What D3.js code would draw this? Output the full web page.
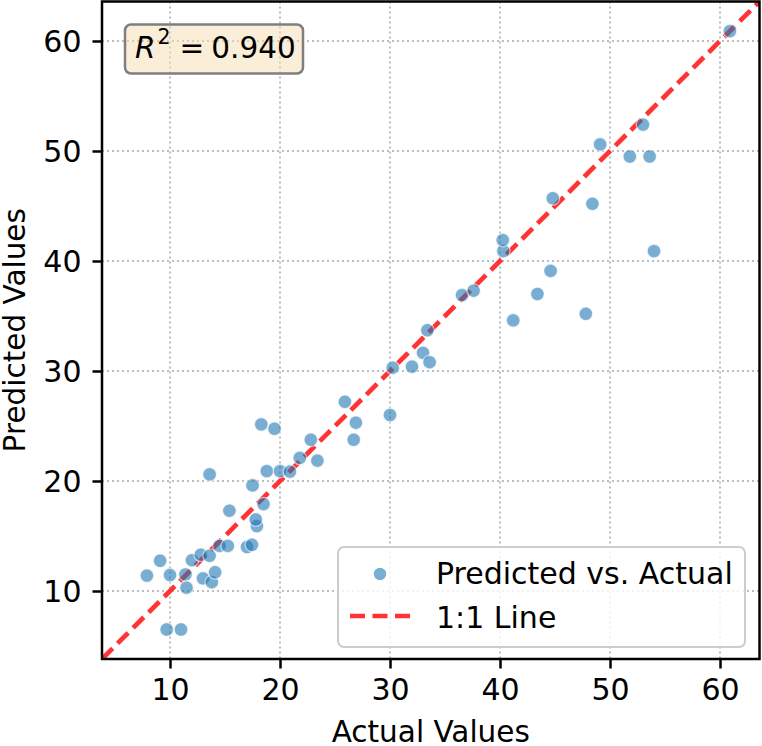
<!DOCTYPE html>
<html>
<head>
<meta charset="utf-8">
<script src="https://cdn.jsdelivr.net/npm/d3@7"></script>
<style>
  body { margin: 0; background: #fff; }
  svg { font-family: 'DejaVu Sans', sans-serif; }
</style>
</head>
<body>
<div id="chart"></div>
<script>
// values
const actual = [
    7.9, 9.1, 10.0, 11.4, 11.5, 12.0, 12.8, 13.6, 13.0, 13.8,
    14.1, 14.5, 15.25, 17.0, 17.45, 17.9, 17.8, 9.7, 11.0, 18.3,
    19.5, 22.8, 21.8, 23.4, 13.6, 18.8, 20.0, 20.9, 17.5, 18.5,
    15.4, 25.9, 26.9, 26.7, 30.0, 30.25, 32.0, 33.0, 33.6, 33.4,
    36.55, 37.6, 40.3, 41.2, 43.4, 44.6, 47.8, 54.0, 40.25, 44.8,
    48.4, 60.9, 53.0, 49.1, 51.8, 53.6
];
const predicted = [
    11.4, 12.75, 11.45, 11.5, 10.3, 12.8, 13.3, 13.2, 11.15, 10.8,
    11.7, 14.1, 14.1, 14.0, 14.2, 15.9, 16.5, 6.5, 6.5, 25.15,
    24.75, 23.75, 22.1, 21.85, 20.6, 20.9, 20.9, 20.85, 19.6, 17.9,
    17.3, 27.2, 25.3, 23.75, 26.0, 30.3, 30.4, 31.65, 30.8, 33.7,
    36.9, 37.3, 40.9, 34.6, 37.0, 39.1, 35.2, 40.9, 41.9, 45.7,
    45.2, 60.9, 52.4, 50.6, 49.5, 49.5
];
const ticks = [10, 20, 30, 40, 50, 60];
const r2Text = '0.940';
const legendLabels = ['Predicted vs. Actual', '1:1 Line'];

const chartWidth = 762;
const chartHeight = 746;
const plotLeft = 102, plotRight = 759.5, plotTop = 1.5, plotBottom = 659;
const lo = 3.818, hi = 63.59;

const data = actual.map((a, i) => ({ a: a, p: predicted[i] }));

const svg = d3.select('#chart')
    .append('svg')
    .attr('width', chartWidth)
    .attr('height', chartHeight);

// scales
const xScale = d3.scaleLinear().domain([lo, hi]).range([plotLeft, plotRight]);
const yScale = d3.scaleLinear().domain([lo, hi]).range([plotBottom, plotTop]);

svg.append('defs').append('clipPath')
    .attr('id', 'plot-clip')
    .append('rect')
    .attr('x', plotLeft).attr('y', plotTop)
    .attr('width', plotRight - plotLeft).attr('height', plotBottom - plotTop);

// grid
const grid = svg.append('g').attr('class', 'grid');
grid.selectAll('line.gx')
    .data(ticks)
    .enter()
    .append('line')
    .attr('class', 'gx')
    .attr('x1', (d) => xScale(d)).attr('x2', (d) => xScale(d))
    .attr('y1', plotTop).attr('y2', plotBottom);
grid.selectAll('line.gy')
    .data(ticks)
    .enter()
    .append('line')
    .attr('class', 'gy')
    .attr('y1', (d) => yScale(d)).attr('y2', (d) => yScale(d))
    .attr('x1', plotLeft).attr('x2', plotRight);
grid.selectAll('line')
    .attr('stroke', '#bdbdbd')
    .attr('stroke-width', 2)
    .attr('stroke-dasharray', '2,3');

// 1:1 line
svg.append('line')
    .attr('clip-path', 'url(#plot-clip)')
    .attr('x1', xScale(lo)).attr('y1', yScale(lo))
    .attr('x2', xScale(hi)).attr('y2', yScale(hi))
    .attr('stroke', '#ff3333')
    .attr('stroke-width', 4.7)
    .attr('stroke-dasharray', '15,7');

// points
svg.append('g').selectAll('circle')
    .data(data)
    .enter()
    .append('circle')
    .attr('cx', (d) => xScale(d.a))
    .attr('cy', (d) => yScale(d.p))
    .attr('r', 6.8)
    .attr('fill', '#1f77b4')
    .attr('fill-opacity', 0.6)
    .attr('stroke', '#fff')
    .attr('stroke-opacity', 0.6)
    .attr('stroke-width', 1.2);

// axes
const xAxis = d3.axisBottom(xScale).tickValues(ticks).tickSize(9.5).tickPadding(10);
const yAxis = d3.axisLeft(yScale).tickValues(ticks).tickSize(9.5).tickPadding(11);

const gx = svg.append('g')
    .attr('transform', `translate(0, ${plotBottom})`)
    .call(xAxis);
const gy = svg.append('g')
    .attr('transform', `translate(${plotLeft}, 0)`)
    .call(yAxis);

[gx, gy].forEach((g) => {
    g.select('.domain').remove();
    g.selectAll('.tick line').attr('stroke', '#000').attr('stroke-width', 2.5);
    g.selectAll('.tick text')
        .attr('fill', '#000')
        .style('font-size', '30px')
        .style('font-family', 'DejaVu Sans');
});
gx.selectAll('.tick text').attr('dy', '0.71em');
gy.selectAll('.tick text').attr('dy', '0.36em');

// frame
svg.append('rect')
    .attr('x', plotLeft).attr('y', plotTop)
    .attr('width', plotRight - plotLeft).attr('height', plotBottom - plotTop)
    .attr('fill', 'none')
    .attr('stroke', '#000')
    .attr('stroke-width', 2.5);

// axis labels
svg.append('text')
    .attr('x', (plotLeft + plotRight) / 2)
    .attr('y', 742)
    .attr('text-anchor', 'middle')
    .style('font-size', '29.5px')
    .text('Actual Values');

svg.append('text')
    .attr('transform', `translate(25, ${(plotTop + plotBottom) / 2}) rotate(-90)`)
    .attr('text-anchor', 'middle')
    .style('font-size', '29.5px')
    .text('Predicted Values');

// R^2 box
svg.append('rect')
    .attr('x', 125).attr('y', 24.5)
    .attr('width', 178).attr('height', 49)
    .attr('rx', 6)
    .attr('fill', '#f5deb3')
    .attr('fill-opacity', 0.5)
    .attr('stroke', '#7f7f7f')
    .attr('stroke-width', 2.5);

const r2 = svg.append('text')
    .attr('x', 135)
    .attr('y', 58)
    .style('font-size', '29.5px');
r2.append('tspan').style('font-style', 'italic').text('R');
r2.append('tspan').attr('dx', 2).attr('dy', -14).style('font-size', '20.5px').text('2');
r2.append('tspan').attr('dx', 9).attr('dy', 14).text('=');
r2.append('tspan').attr('dx', 7).text(r2Text);

// legend
const legend = svg.append('g');
legend.append('rect')
    .attr('x', 338).attr('y', 547)
    .attr('width', 407).attr('height', 100)
    .attr('rx', 6)
    .attr('fill', '#fff')
    .attr('fill-opacity', 0.8)
    .attr('stroke', '#cccccc')
    .attr('stroke-width', 2);

legend.append('circle')
    .attr('cx', 380).attr('cy', 574)
    .attr('r', 6.8)
    .attr('fill', '#1f77b4')
    .attr('fill-opacity', 0.6)
    .attr('stroke', '#fff')
    .attr('stroke-width', 1.2);

legend.append('line')
    .attr('x1', 350).attr('x2', 411)
    .attr('y1', 616).attr('y2', 616)
    .attr('stroke', '#ff3333')
    .attr('stroke-width', 4.7)
    .attr('stroke-dasharray', '15,7.5');

legend.selectAll('text.lab')
    .data(legendLabels)
    .enter()
    .append('text')
    .attr('class', 'lab')
    .attr('x', 436)
    .attr('y', (d, i) => 584 + i * 44)
    .style('font-size', '30px')
    .text((d) => d);
</script>
</body>
</html>
